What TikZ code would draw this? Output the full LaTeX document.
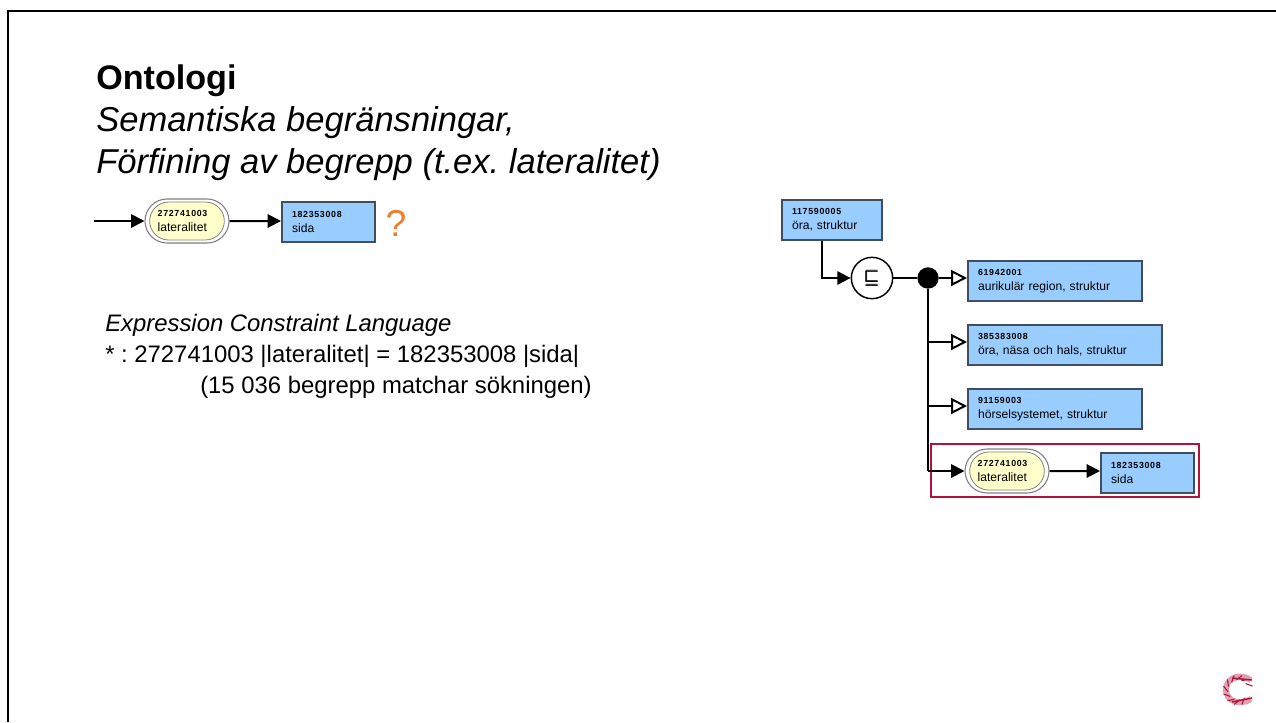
\documentclass[tikz,border=0pt]{standalone}
\usepackage{amsmath}
\usepackage{fontspec}
\setmainfont{Liberation Sans}
\usetikzlibrary{arrows.meta, positioning, shapes.misc, calc}
\definecolor{conceptblue}{HTML}{99CCFF}
\definecolor{conceptedge}{HTML}{3F4F5F}
\definecolor{attrfill}{HTML}{FFFFCC}
\definecolor{boxred}{HTML}{B5123A}
\definecolor{askorange}{HTML}{ED7D31}
\newcommand{\code}{\bfseries\addfontfeature{LetterSpace=8}\fontsize{6.6}{11}\selectfont}
\newcommand{\Concept}[2]{{\code #1}\\#2}
\tikzset{
    concept/.style={rectangle, draw=conceptedge, line width=1.5pt, fill=conceptblue, anchor=north west,
      minimum height=30pt, text width=#1, inner xsep=7.5pt, inner ysep=2pt, align=left, font=\fontsize{9.1}{11}\selectfont},
    attribute/.style={rounded rectangle, draw=black!50, line width=0.6pt, fill=attrfill, minimum width=58pt, minimum height=28.5pt,
      text width=44pt, inner xsep=1pt, inner ysep=1pt, align=left, font=\fontsize{9.1}{11}\selectfont},
    attrring/.style={rounded rectangle, draw=black!50, line width=0.8pt, fill=white, minimum width=63pt, minimum height=33pt, inner sep=0pt},
    solidline/.style={line width=1.5pt, -{Triangle[length=10pt,width=10pt]}},
    isaline/.style={line width=1.5pt, -{Triangle[open,length=12pt,width=12pt,fill=white]}},
    plainline/.style={line width=1.5pt},
    headline/.style={anchor=base west, inner sep=0pt, font=\fontsize{25.6}{30}\selectfont},
    subline/.style={anchor=base west, inner sep=0pt, font=\itshape\fontsize{25.9}{30}\selectfont},
    bodyline/.style={anchor=base west, inner sep=0pt, font=\fontsize{17.9}{21}\selectfont},
}
\begin{document}
\frenchspacing
\begin{tikzpicture}[x=0.75pt, y=-0.75pt]
    \useasboundingbox (0,0) rectangle (1276,722);
    % frame
    \draw[black, line width=1.9pt] (8,722) -- (8,11) -- (1276,11);

    % heading
    \node[headline] (title) at (96,89) {\bfseries Ontologi};
    \node[subline] (sub1) at (96,131) {Semantiska begränsningar,};
    \node[subline] (sub2) at (96,173) {Förfining av begrepp (t.ex. lateralitet)};

    % left pattern
    \coordinate (lstart) at (94,221);
    \node[attrring] (lring) at (187,221) {};
    \node[attribute] (lattr) at (187,221) {\Concept{272741003}{lateralitet}};
    \node[concept=55pt] (lsida) at (281,201) {\Concept{182353008}{sida}};
    \node[anchor=base, inner sep=0pt, text=askorange, font=\fontsize{28}{30}\selectfont] (ask) at (396,236) {?};
    \draw[solidline] (lstart) -- (lring);
    \draw[solidline] (lring) -- (lsida.west |- lring);

    % constraint text
    \node[bodyline, font=\itshape\fontsize{17.9}{21}\selectfont] (ecl1) at (105,331) {Expression Constraint Language};
    \node[bodyline] (ecl2) at (105,362) {* : 272741003 |lateralitet| = 182353008 |sida|};
    \node[bodyline] (ecl3) at (200,393) {(15 036 begrepp matchar sökningen)};

    % right diagram
    \node[concept=60pt] (ear) at (781,199) {\Concept{117590005}{öra, struktur}};
    \node[circle, draw=black, line width=1.1pt, fill=white, minimum size=31pt, inner sep=0pt, font=\fontsize{15}{18}\selectfont] (subs) at (872,278) {$\pmb{\sqsubseteq}$};
    \node[circle, fill=black, minimum size=16pt, inner sep=0pt] (dot) at (928,278) {};
    \node[concept=115.5pt] (aur) at (967,260) {\Concept{61942001}{aurikulär region, struktur}};
    \node[concept=130.5pt] (ent) at (967,324) {\Concept{385383008}{öra, näsa och hals, struktur}};
    \node[concept=115.5pt] (hor) at (967,388) {\Concept{91159003}{hörselsystemet, struktur}};
    \node[attrring] (rring) at (1007,471) {};
    \node[attribute] (rattr) at (1007,471) {\Concept{272741003}{lateralitet}};
    \node[concept=55pt] (rsida) at (1100,452) {\Concept{182353008}{sida}};
    \node[draw=boxred, line width=1.7pt, minimum width=201pt, minimum height=39.5pt, inner sep=0pt] (mark) at (1065,470.5) {};

    \draw[solidline] (ear.south -| 822,0) |- (subs);
    \draw[plainline] (subs) -- (dot);
    \draw[isaline] (dot) -- (aur.west |- dot);
    \coordinate (jent) at (928,342);
    \coordinate (jhor) at (928,406);
    \coordinate (jattr) at (928,471);
    \draw[plainline] (dot) -- (jattr);
    \draw[isaline] (jent) -- (ent.west |- jent);
    \draw[isaline] (jhor) -- (hor.west |- jhor);
    \draw[solidline] (jattr) -- (rring);
    \draw[solidline] (rring) -- (rsida.west |- rring);

    % logo
    \begin{scope}[shift={(1238,690)}, boxred]
      \draw[line width=4.5pt, opacity=.4] (13,-10) .. controls (2,-17) and (-12,-13) .. (-12,0) .. controls (-12,11) and (2,16) .. (13,9);
      \foreach \ang in {50,80,...,320}
        \draw[line width=.8pt] ({\ang}:10) -- ({\ang+25}:15);
      \draw[line width=1.1pt] (-6,-12) -- (14,-10);
      \draw[line width=1.1pt] (-6,12) -- (14,8);
    \end{scope}
\end{tikzpicture}
\end{document}
